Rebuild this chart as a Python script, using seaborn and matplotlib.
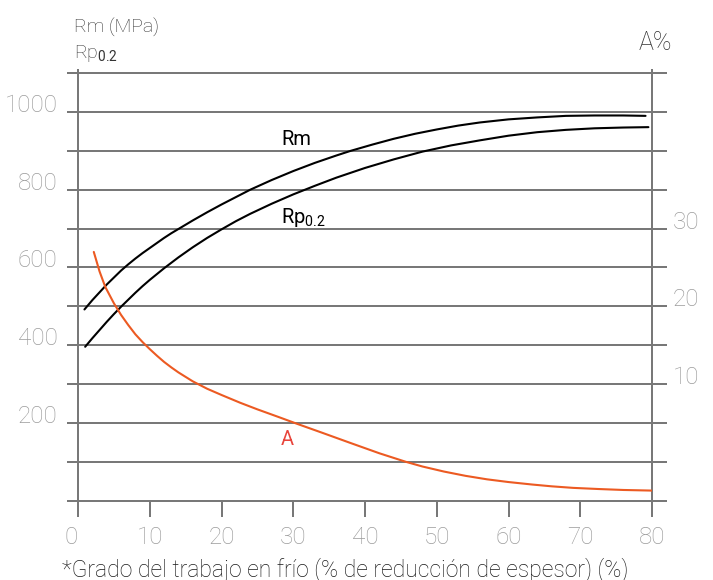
import matplotlib
matplotlib.use("Agg")
import matplotlib.pyplot as plt
import pandas as pd
import seaborn as sns

# Strength and elongation versus degree of cold work
rm_x = [0.9, 2, 3, 4, 5, 6, 7, 8, 9, 10, 11, 12, 13, 14, 16, 18, 20, 22, 24, 27, 30,
        33, 36, 38, 41, 44, 47, 50, 53, 56, 60, 64, 68, 72, 76, 79.1]
rm_mpa = [492, 516, 536, 556, 574, 592, 608, 623, 637, 650, 663, 676, 688, 699, 721,
          742, 762, 781, 800, 825, 848, 869, 888, 900, 916, 931, 944, 955, 965, 973,
          981, 986, 990, 991, 991, 990]

rp_x = [1.0, 2, 3, 4, 5, 6, 7, 8, 9, 10, 11, 12, 14, 16, 18, 20, 22, 24, 27, 30, 33,
        36, 40, 44, 48, 52, 56, 60, 64, 68, 72, 76, 79.5]
rp_mpa = [396, 418, 439, 460, 480, 499, 517, 535, 552, 568, 583, 598, 626, 652, 676,
          698, 719, 738, 764, 788, 810, 831, 856, 878, 898, 914, 927, 939, 948, 954,
          958, 960, 961]

a_x = [2.2, 3.0, 3.8, 5.0, 6.0, 7.0, 8.0, 9.0, 10, 11, 12, 13, 14, 16, 18, 20, 22.6,
       25, 28, 30.5, 34, 37.9, 42, 45.7, 48, 51, 54, 57, 60, 63.3, 66, 69, 72.6, 76, 80]
a_pct = [27.0, 24.5, 22.5, 20.4, 18.9, 17.6, 16.4, 15.4, 14.5, 13.65, 12.85, 12.15,
         11.5, 10.35, 9.4, 8.6, 7.6, 6.75, 5.75, 4.9, 3.75, 2.45, 1.1, 0.0, -0.6, -1.25,
         -1.8, -2.25, -2.6, -2.92, -3.15, -3.35, -3.5, -3.62, -3.7]

x_ticks = [0, 10, 20, 30, 40, 50, 60, 70, 80]
mpa_ticks = [200, 400, 600, 800, 1000]
mpa_grid = list(range(0, 1200, 100))
a_ticks = [10, 20, 30]

x_label = "*Grado del trabajo en frío (% de reducción de espesor) (%)"
left_title = "Rm (MPa)"
right_title = "A%"

sns.set_theme(style="white")
plt.rcParams["font.family"] = ["Roboto", "DejaVu Sans"]
plt.rcParams["mathtext.fontset"] = "custom"
plt.rcParams["mathtext.rm"] = "Roboto"
plt.rcParams["mathtext.default"] = "rm"

GRID = "#787878"
TICK_TXT = "#9c9c9c"
ORANGE = "#ec5a22"
RED_TXT = "#e8453c"
PX = 0.72  # one pixel in points at 100 dpi

W, H = 713, 580
fig = plt.figure(figsize=(W / 100, H / 100), dpi=100)
ax_l, ax_r, ax_b, ax_t = 78, 652, 500.7, 70
ax = fig.add_axes([ax_l / W, (H - ax_b) / H, (ax_r - ax_l) / W, (ax_b - ax_t) / H])

ymax = 1108
ax.set_xlim(0, 80)
ax.set_ylim(0, ymax)

# Elongation axis tied to the stress axis: A = (MPa - 100) / 20
ax2 = ax.twinx()
ax2.set_ylim((0 - 100) / 20, (ymax - 100) / 20)

# Horizontal rules reaching a little past both vertical axes
span = ax_r - ax_l
for v in mpa_grid:
    ax.plot([-11 / span, 1 + 15 / span], [v, v], transform=ax.get_yaxis_transform(),
            color=GRID, lw=2 * PX, clip_on=False, zorder=1, solid_capstyle="butt")

df_rm = pd.DataFrame({"x": rm_x, "y": rm_mpa})
df_rp = pd.DataFrame({"x": rp_x, "y": rp_mpa})
df_a = pd.DataFrame({"x": a_x, "y": a_pct})

sns.lineplot(data=df_rm, x="x", y="y", ax=ax, color="black", lw=1.5, zorder=3)
sns.lineplot(data=df_rp, x="x", y="y", ax=ax, color="black", lw=1.5, zorder=3)
sns.lineplot(data=df_a, x="x", y="y", ax=ax2, color=ORANGE, lw=1.5, zorder=3)

for a in (ax, ax2):
    a.set_xlabel("")
    a.set_ylabel("")
    for s in a.spines.values():
        s.set_visible(False)
    a.grid(False)

for side in ("left", "right"):
    ax.spines[side].set_visible(True)
    ax.spines[side].set_color(GRID)
    ax.spines[side].set_linewidth(2 * PX)
    ax.spines[side].set_zorder(2)

ax.set_xticks(x_ticks)
ax.set_xticklabels([str(t) for t in x_ticks])
ax.tick_params(axis="x", direction="out", length=16 * PX, width=2 * PX, color=GRID,
               pad=9 * PX, labelsize=17.5, labelcolor=TICK_TXT, bottom=True)
ax.get_xticklabels()[0].set_horizontalalignment("right")

ax.set_yticks(mpa_ticks)
ax.set_yticklabels([str(t) for t in mpa_ticks])
ax.tick_params(axis="y", length=0, pad=20.5 * PX, labelsize=17.5, labelcolor=TICK_TXT)
for lab in ax.get_yticklabels():
    lab.set_verticalalignment("baseline")

ax2.set_yticks(a_ticks)
ax2.set_yticklabels([str(t) for t in a_ticks])
ax2.tick_params(axis="y", length=0, pad=20.7 * PX, labelsize=17.5, labelcolor=TICK_TXT)
for lab in ax2.get_yticklabels():
    lab.set_verticalalignment("baseline")

for lab in ax.get_xticklabels() + ax.get_yticklabels() + ax2.get_yticklabels():
    lab.set_fontweight("light")

# Curve names inside the plot
ax.text(28.3, 915, "Rm", fontsize=14.5, color="black", va="baseline", ha="left")
ax.text(28.3, 714, r"Rp$_{0.2}$", fontsize=14.5, color="black", va="baseline", ha="left")
ax2.text(28.2, 2.15, "A", fontsize=14.5, color=RED_TXT, va="baseline", ha="left")


def fx(px):
    return px / W


def fy(py):
    return (H - py) / H


# Axis titles
fig.text(fx(74), fy(32.7), left_title, fontsize=14, color="#333333", va="baseline",
         fontweight="light")
fig.text(fx(74), fy(58.3), r"Rp$_{0.2}$", fontsize=14, color="#333333", va="baseline",
         fontweight="light")
fig.text(fx(671.7), fy(50), right_title, fontsize=18, color="#333333", va="baseline",
         ha="right", fontweight="light")
fig.text(fx(62), fy(576), x_label, fontsize=16.6, color="#1a1a1a", va="baseline",
         fontweight="light")

fig.savefig("out.png", dpi=100)
